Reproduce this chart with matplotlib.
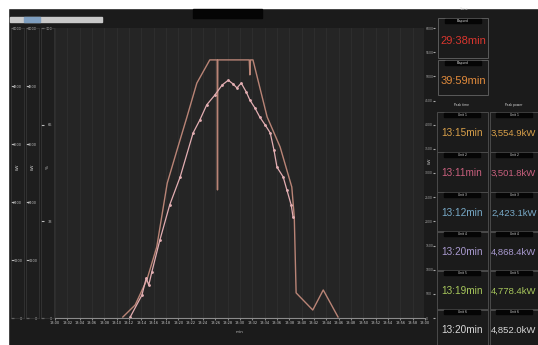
import numpy as np
import matplotlib.pyplot as plt

# power curves (time in min, power in kW)
outer_t = [11.0, 13.0, 14.9, 16.5, 18.2, 19.8, 21.4, 23.0, 25.1, 26.3, 26.35, 26.4,
           31.5, 31.6, 31.7, 32.1, 34.4, 36.5, 38.4, 38.8, 39.1, 41.8, 43.5, 45.9]
outer_p = [20, 270, 790, 1470, 2790, 3480, 4160, 4860, 5340, 5340, 2650, 5340,
           5340, 5030, 5340, 5340, 4160, 3540, 2710, 2090, 520, 165, 580, 20]

inner_t = [12.2, 14.1, 14.8, 15.2, 15.7, 17.0, 18.6, 20.3, 22.4, 23.5, 24.6, 25.9,
           27.1, 28.1, 28.9, 29.5, 30.2, 31.0, 31.6, 32.4, 33.2, 34.1, 34.9, 35.5,
           36.0, 37.0, 37.6, 38.3, 38.6]
inner_p = [20, 475, 830, 680, 950, 1610, 2340, 2920, 3830, 4100, 4410, 4610,
           4820, 4920, 4840, 4760, 4860, 4680, 4510, 4350, 4160, 3990, 3830, 3480,
           3120, 2920, 2650, 2340, 2090]

top_labels = ['29:38min', '39:59min']
top_colors = ['#d8362e', '#e08a3c']

row_times = ['13:15min', '13:11min', '13:12min', '13:20min', '13:19min', '13:20min']
row_power = ['3,554.9kW', '3,501.8kW', '2,423.1kW', '4,868.4kW', '4,778.4kW', '4,852.0kW']
row_colors = ['#d9a04a', '#c9607e', '#78aac8', '#a99ad0', '#a8c85c', '#d8d8d8']

x_ticks = list(range(0, 61, 2))
x_labels = ['13:%02d' % (t % 60) for t in x_ticks]

W, H = 538, 345
fig = plt.figure(figsize=(W / 100, H / 100), dpi=100)
fig.patch.set_facecolor('#1b1b1b')


def box(x0, y0, x1, y1):
    # pixel box (top-left origin) -> figure fraction rect
    return [x0 / W, 1 - y1 / H, (x1 - x0) / W, (y1 - y0) / H]


# white margin at top and left like the screenshot
bg = fig.add_axes([0, 0, 1, 1], zorder=-10)
bg.set_xlim(0, W)
bg.set_ylim(H, 0)
bg.axis('off')
bg.add_patch(plt.Rectangle((0, 0), W, 8, color='white'))
bg.add_patch(plt.Rectangle((0, 0), 8, H, color='white'))
bg.add_patch(plt.Rectangle((10, 17), 92, 5, color='#c9c9c9'))
bg.add_patch(plt.Rectangle((24, 17), 16, 5, color='#7f9fc0'))
bg.add_patch(plt.Rectangle((193, 9), 69, 9, color='#050505'))

# main chart
ax = fig.add_axes(box(55, 28, 425, 318))
ax.set_facecolor('#252525')
ax.plot(outer_t, outer_p, color='#b98476', lw=1.0)
ax.plot(inner_t, inner_p, color='#e3aeb2', lw=0.9, marker='o', ms=1.0)
ax.set_xlim(0, 60)
ax.set_ylim(0, 6000)
ax.set_xticks(x_ticks)
ax.set_xticklabels(x_labels, fontsize=2.5, color='#cfcfcf')
ax.set_yticks([])
ax.grid(axis='x', color='#2f2f2f', lw=0.6)
ax.tick_params(axis='x', length=1.5, color='#888888', pad=1)
for s in ax.spines.values():
    s.set_visible(False)
ax.spines['bottom'].set_visible(True)
ax.spines['bottom'].set_color('#8a8a8a')
ax.set_xlabel('min', fontsize=3, color='#bbbbbb', labelpad=3)

# left value axes
strips = [(11, 24, 6000), (26, 39, 6000), (41, 54, 100)]
for i, (xa, xb, top) in enumerate(strips):
    la = fig.add_axes(box(xa, 28, xb, 318))
    la.set_facecolor('#1e1e1e')
    la.set_ylim(0, top)
    la.set_xticks([])
    ticks = np.linspace(0, top, 6 if i < 2 else 4)
    la.set_yticks(ticks)
    la.set_yticklabels(['%d' % v for v in ticks])
    la.tick_params(axis='y', direction='in', pad=-8, labelsize=2.5,
                   colors='#bbbbbb', length=2)
    for s in la.spines.values():
        s.set_color('#3a3a3a')
        s.set_linewidth(0.5)
    la.text(0.5, 0.52, 'kW' if i < 2 else '%', rotation=90, fontsize=3,
            color='#cccccc', transform=la.transAxes, ha='center', va='center')

# right axis and panels
ra = fig.add_axes(box(424, 28, 435, 318))
ra.set_facecolor('#1b1b1b')
ra.set_ylim(0, 6000)
ra.set_xticks([])
ra.set_yticks(np.arange(0, 6001, 500))
ra.set_yticklabels(['%d' % v for v in np.arange(0, 6001, 500)])
ra.tick_params(axis='y', direction='in', labelsize=2.2, colors='#aaaaaa',
               length=1.5, pad=-7, left=False, right=True,
               labelleft=False, labelright=True)
for s in ra.spines.values():
    s.set_visible(False)
ra.text(0.55, 0.542, 'kW', rotation=90, fontsize=3, color='#bbbbbb',
        transform=ra.transAxes, ha='center', va='center')

fig.text(463 / W, 1 - 9 / H, 'Time', fontsize=2.5, color='#dddddd', ha='center', va='center')
top_boxes = [(18, 58), (60, 95)]
for (y0, y1), lab, col in zip(top_boxes, top_labels, top_colors):
    bg.add_patch(plt.Rectangle((438, y0), 50, y1 - y0, fill=False,
                               ec='#5a5a5a', lw=0.7))
    bg.add_patch(plt.Rectangle((445, y0 + 1), 36, 4, color='#050505'))
    fig.text(463 / W, 1 - (y0 + 3) / H, 'Elapsed', fontsize=2.2, color='#dddddd',
             ha='center', va='center')
    fig.text(463 / W, 1 - ((y0 + y1) / 2 + 3) / H, lab, fontsize=8.0, color=col,
             ha='center', va='center', family='Liberation Sans')

fig.text(462 / W, 1 - 105 / H, 'Peak time', fontsize=2.2, color='#dddddd', ha='center', va='center')
fig.text(514 / W, 1 - 105 / H, 'Peak power', fontsize=2.2, color='#dddddd', ha='center', va='center')
row_y = [133, 173, 213, 252, 291, 330]
for k, (y, tm, pw, col) in enumerate(zip(row_y, row_times, row_power, row_colors)):
    y0 = y - 21
    bg.add_patch(plt.Rectangle((437, y0), 51, 40, fill=False, ec='#4a4a4a', lw=0.7))
    bg.add_patch(plt.Rectangle((490, y0), 50, 40, fill=False, ec='#4a4a4a', lw=0.7))
    for cx in (462, 514):
        bg.add_patch(plt.Rectangle((cx - 18, y0 + 1), 36, 4, color='#050505'))
        fig.text(cx / W, 1 - (y0 + 3) / H, 'Unit %d' % (k + 1), fontsize=2.2,
                 color='#dddddd', ha='center', va='center')
    fig.text(462 / W, 1 - y / H, tm, fontsize=7.2, color=col, ha='center',
             va='center', family='Liberation Sans')
    fig.text(491 / W, 1 - y / H, pw, fontsize=6.8, color=col, ha='left',
             va='center', family='Liberation Sans')

fig.savefig('out.png', dpi=100, facecolor=fig.get_facecolor())
